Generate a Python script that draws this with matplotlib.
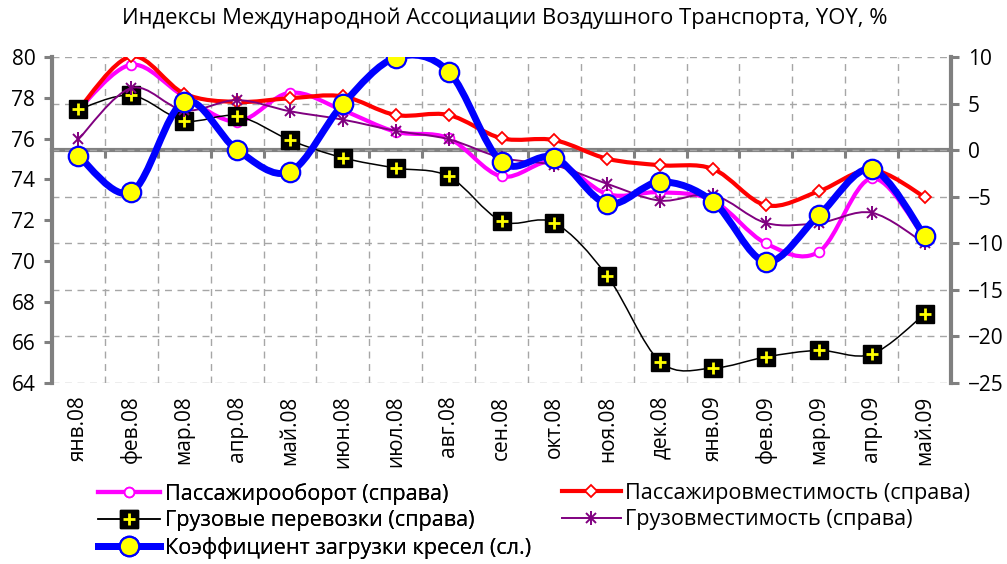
import numpy as np
import matplotlib as mpl
mpl.use('Agg')
import matplotlib.pyplot as plt
from matplotlib.path import Path
from matplotlib.patches import PathPatch
from matplotlib.lines import Line2D

plt.rcParams['font.family'] = ['Open Sans', 'DejaVu Sans']

months = ['янв.08', 'фев.08', 'мар.08', 'апр.08', 'май.08', 'июн.08', 'июл.08', 'авг.08',
          'сен.08', 'окт.08', 'ноя.08', 'дек.08', 'янв.09', 'фев.09', 'мар.09', 'апр.09', 'май.09']

# right axis, %
pax_traffic = [4.4, 9.2, 5.8, 3.1, 6.2, 4.3, 2.0, 1.3, -2.8, -1.2, -4.7, -4.5, -5.4, -10.0, -10.9, -3.0, -9.4]
pax_capacity = [4.4, 10.1, 6.1, 5.2, 5.6, 5.8, 3.8, 3.8, 1.3, 1.1, -0.9, -1.6, -2.0, -5.9, -4.4, -2.1, -5.0]
freight = [4.4, 5.9, 3.2, 3.7, 1.1, -0.8, -1.9, -2.8, -7.6, -7.8, -13.5, -22.7, -23.4, -22.2, -21.5, -21.9, -17.6]
freight_cap = [1.2, 6.7, 4.3, 5.4, 4.2, 3.3, 2.1, 1.2, -0.8, -1.6, -3.6, -5.4, -4.8, -7.8, -7.8, -6.7, -10.0]
# left axis
load_factor = [75.15, 73.37, 77.82, 75.45, 74.38, 77.7, 79.98, 79.3, 74.86, 75.07, 72.81, 73.88, 72.91,
               69.96, 72.24, 74.5, 71.24]

labels = ['Пассажирооборот (справа)', 'Пассажировместимость (справа)', 'Грузовые перевозки (справа)',
          'Грузовместимость (справа)', 'Коэффициент загрузки кресел (сл.)']

GRAY = '#808080'
FS = 15


def smooth(ax, x, y, **kw):
    # excel-like smoothed line: catmull-rom as bezier segments
    p = np.column_stack([x, y]).astype(float)
    ext = np.vstack([p[0], p, p[-1]])
    verts = [p[0]]
    codes = [Path.MOVETO]
    for i in range(len(p) - 1):
        c1 = ext[i + 1] + (ext[i + 2] - ext[i]) / 6
        c2 = ext[i + 2] - (ext[i + 3] - ext[i + 1]) / 6
        verts += [c1, c2, p[i + 1]]
        codes += [Path.CURVE4] * 3
    ax.add_patch(PathPatch(Path(verts, codes), fill=False, capstyle='round', joinstyle='round', **kw))


fig = plt.figure(figsize=(10.07, 5.64), dpi=100)
rect = [52 / 1007, 1 - 383 / 564, 899 / 1007, (383 - 57.3) / 564]
axr = fig.add_axes(rect)
axl = fig.add_axes(rect)
axl.set_zorder(axr.get_zorder() + 1)
axl.patch.set_visible(False)

x = np.arange(len(months))
for a in (axr, axl):
    a.set_xlim(-0.5, len(months) - 0.5)

# right axes: grid, zero line, right scale
axr.set_ylim(-25, 10)
axr.set_yticks(np.arange(-25, 11, 5))
axr.yaxis.tick_right()
axr.set_xticks(np.arange(-0.5, len(months), 1.0))
axr.tick_params(axis='x', labelbottom=False, direction='out', length=6, width=2.2, color=GRAY)
axr.tick_params(axis='y', labelsize=FS, direction='out', length=6, width=2.2, color=GRAY, pad=6)
axr.grid(True, color='#a6a6a6', linestyle=(0, (5, 4)), linewidth=1)
for s in ('left', 'top'):
    axr.spines[s].set_visible(False)
axr.spines['right'].set_color(GRAY)
axr.spines['right'].set_linewidth(3)
axr.spines['bottom'].set_position(('data', 0))
axr.spines['bottom'].set_color(GRAY)
axr.spines['bottom'].set_linewidth(3)
axr.spines['bottom'].set_zorder(1.5)

# left axes: left scale, month labels
axl.set_ylim(64, 80)
axl.set_yticks(np.arange(64, 81, 2))
axl.set_xticks(x)
axl.set_xticklabels(months, rotation=90, fontsize=FS)
axl.tick_params(axis='x', length=0, pad=9)
axl.tick_params(axis='y', labelsize=FS, direction='out', length=6, width=2.2, color=GRAY, pad=6)
for s in ('right', 'top', 'bottom'):
    axl.spines[s].set_visible(False)
axl.spines['left'].set_color(GRAY)
axl.spines['left'].set_linewidth(3)

# series
smooth(axr, x, pax_traffic, color='#ff00ff', lw=3, zorder=3)
axr.plot(x, pax_traffic, 'o', ms=7, mfc='white', mec='#ff00ff', mew=1.3, zorder=3.1)
smooth(axr, x, pax_capacity, color='#ff0000', lw=3, zorder=4)
axr.plot(x, pax_capacity, 'D', ms=6.5, mfc='white', mec='#ff0000', mew=1.3, zorder=4.1)
smooth(axr, x, freight, color='black', lw=1.1, zorder=5)
axr.plot(x, freight, 's', ms=12.5, mfc='black', mec='black', zorder=5.1)
axr.plot(x, freight, '+', ms=9, mec='#ffff00', mew=2, zorder=5.2)
smooth(axr, x, freight_cap, color='#800080', lw=1.4, zorder=6)
axr.plot(x, freight_cap, 'x', ms=7.5, mec='#800080', mew=1.4, zorder=6.1)
axr.plot(x, freight_cap, '|', ms=10, mec='#800080', mew=1.4, zorder=6.1)

smooth(axl, x, load_factor, color='#0000ff', lw=5, zorder=3)
axl.plot(x, load_factor, 'o', ms=14, mfc='#ffff00', mec='#0000ff', mew=1.6, zorder=3.1)

fig.text(505 / 1007, 1 - 18 / 564, 'Индексы Международной Ассоциации Воздушного Транспорта, YOY, %',
         ha='center', va='center', fontsize=15.8)

# legend
h_pax = Line2D([], [], color='#ff00ff', lw=3, marker='o', ms=7, mfc='white', mec='#ff00ff', mew=1.3)
h_cap = Line2D([], [], color='#ff0000', lw=3, marker='D', ms=6.5, mfc='white', mec='#ff0000', mew=1.3)
h_fr = (Line2D([], [], color='black', lw=1.1, marker='s', ms=12.5, mfc='black', mec='black'),
        Line2D([], [], ls='none', marker='+', ms=9, mec='#ffff00', mew=2))
h_fc = (Line2D([], [], color='#800080', lw=1.4, marker='x', ms=7.5, mec='#800080', mew=1.4),
        Line2D([], [], ls='none', marker='|', ms=10, mec='#800080', mew=1.4))
h_lf = Line2D([], [], color='#0000ff', lw=5, marker='o', ms=14, mfc='#ffff00', mec='#0000ff', mew=1.6)

common = dict(frameon=False, fontsize=15.6, numpoints=1, borderpad=0, borderaxespad=0,
              handletextpad=0.22, labelspacing=0.25, loc='upper left')
leg1 = fig.legend([h_pax, h_fr, h_lf], [labels[0], labels[2], labels[4]],
                  bbox_to_anchor=(98 / 1007, 1 - 483 / 564), handlelength=2.85, **common)
fig.add_artist(leg1)
fig.legend([h_cap, h_fc], [labels[1], labels[3]],
           bbox_to_anchor=(562 / 1007, 1 - 483 / 564), handlelength=2.7, **common)

plt.savefig('out.png', dpi=100)
